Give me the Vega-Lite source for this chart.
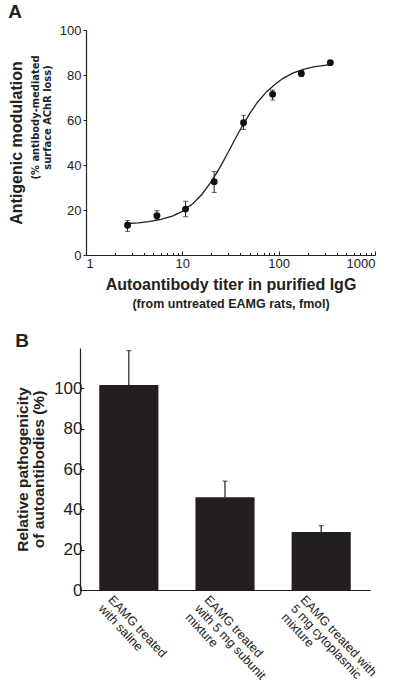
{
  "$schema": "https://vega.github.io/schema/vega-lite/v6.json",
  "padding": {"left": 8, "top": 3, "right": 5, "bottom": 2},
  "background": "white",
  "config": {
    "font": "Liberation Sans",
    "view": {"stroke": null},
    "axis": {"domainColor": "#222", "tickColor": "#222", "labelColor": "#222", "titleColor": "#222", "grid": false, "labelFont": "Liberation Sans", "titleFont": "Liberation Sans"},
    "title": {"font": "Liberation Sans", "fontSize": 19, "fontWeight": "bold", "color": "#222", "anchor": "start", "frame": "bounds"}
  },
  "datasets": {
    "pts": [
      {"titer": 2.7, "mod": 13.2, "lo": 10.5, "hi": 15.3},
      {"titer": 5.45, "mod": 17.5, "lo": 15.6, "hi": 19.7},
      {"titer": 10.8, "mod": 20.4, "lo": 17.0, "hi": 23.9},
      {"titer": 21.4, "mod": 32.6, "lo": 27.8, "hi": 37.1},
      {"titer": 43.2, "mod": 58.8, "lo": 55.8, "hi": 62.1},
      {"titer": 86.5, "mod": 71.4, "lo": 68.9, "hi": 73.3},
      {"titer": 172, "mod": 80.7, "lo": 79.3, "hi": 81.9},
      {"titer": 344, "mod": 85.5, "lo": 85.2, "hi": 85.8}
    ],
    "curve": [
      {"titer": 2.7, "mod": 14.0},
      {"titer": 3.5, "mod": 14.3},
      {"titer": 4.5, "mod": 14.8},
      {"titer": 6, "mod": 15.8},
      {"titer": 8, "mod": 17.4},
      {"titer": 10, "mod": 19.4},
      {"titer": 13, "mod": 23.0},
      {"titer": 16, "mod": 27.0},
      {"titer": 20, "mod": 32.6},
      {"titer": 25, "mod": 39.5},
      {"titer": 30, "mod": 45.8},
      {"titer": 35, "mod": 51.2},
      {"titer": 40, "mod": 55.8},
      {"titer": 50, "mod": 62.8},
      {"titer": 60, "mod": 67.8},
      {"titer": 75, "mod": 72.6},
      {"titer": 90, "mod": 75.6},
      {"titer": 110, "mod": 78.4},
      {"titer": 140, "mod": 80.8},
      {"titer": 180, "mod": 82.5},
      {"titer": 230, "mod": 83.6},
      {"titer": 300, "mod": 84.3},
      {"titer": 344, "mod": 84.6}
    ],
    "bars": [
      {"group": "EAMG treated|with saline", "value": 101.6, "hi": 118.7},
      {"group": "EAMG treated|with 5 mg subunit|mixture", "value": 46.0, "hi": 54.0},
      {"group": "EAMG treated with|5 mg cytoplasmic|mixture", "value": 28.7, "hi": 31.9}
    ]
  },
  "concat": [
    {
      "title": {"text": "A", "offset": 2},
      "width": 295,
      "height": 225,
      "layer": [
        {
          "layer": [
            {
              "data": {"name": "curve"},
              "mark": {"type": "line", "color": "#222", "strokeWidth": 1.3},
              "encoding": {
                "x": {"field": "titer", "type": "quantitative", "scale": {"type": "log", "domain": [1, 1000], "range": [6, 295]},
                  "axis": {"values": [1, 10, 100, 1000], "format": "d", "labelFontSize": 13, "tickSize": -4, "labelPadding": 6, "domainWidth": 1.2,
                    "title": "Autoantibody titer in purified IgG", "titleFontSize": 16, "titleFontWeight": "bold", "titlePadding": 6}},
                "y": {"field": "mod", "type": "quantitative", "scale": {"domain": [0, 100]},
                  "axis": {"values": [0, 20, 40, 60, 80, 100], "offset": -6, "labelFontSize": 13, "tickSize": 3, "labelPadding": 2, "domainWidth": 1.2,
                    "title": "Antigenic modulation", "titleFontSize": 16, "titleFontWeight": "bold", "titlePadding": 35}}
              }
            },
            {
              "data": {"name": "pts"},
              "mark": {"type": "rule", "color": "#222", "strokeWidth": 1},
              "encoding": {
                "x": {"field": "titer", "type": "quantitative"},
                "y": {"field": "lo", "type": "quantitative"},
                "y2": {"field": "hi"}
              }
            },
            {
              "data": {"name": "pts"},
              "mark": {"type": "tick", "orient": "horizontal", "color": "#222", "size": 5, "thickness": 1},
              "encoding": {
                "x": {"field": "titer", "type": "quantitative"},
                "y": {"field": "lo", "type": "quantitative"}
              }
            },
            {
              "data": {"name": "pts"},
              "mark": {"type": "tick", "orient": "horizontal", "color": "#222", "size": 5, "thickness": 1},
              "encoding": {
                "x": {"field": "titer", "type": "quantitative"},
                "y": {"field": "hi", "type": "quantitative"}
              }
            },
            {
              "data": {"name": "pts"},
              "mark": {"type": "point", "filled": true, "color": "#111", "opacity": 1, "size": 48},
              "encoding": {
                "x": {"field": "titer", "type": "quantitative"},
                "y": {"field": "mod", "type": "quantitative"}
              }
            }
          ]
        },
        {
          "data": {"name": "pts"},
          "mark": {"type": "point", "opacity": 0},
          "encoding": {
            "x": {"field": "titer", "type": "quantitative", "scale": {"type": "log", "domain": [1, 1000], "range": [6, 295]},
              "axis": {"orient": "bottom", "values": [2, 3, 4, 5, 6, 7, 8, 9, 20, 30, 40, 50, 60, 70, 80, 90, 200, 300, 400, 500, 600, 700, 800, 900],
                "labels": false, "domain": false, "tickSize": -2.5,
                "title": "(from untreated EAMG rats, fmol)", "titleFontSize": 12.5, "titleFontWeight": "bold", "titlePadding": 42}},
            "y": {"field": "mod", "type": "quantitative", "scale": {"domain": [0, 100]},
              "axis": {"orient": "left", "offset": -6, "labels": false, "ticks": false, "domain": false,
                "title": ["(% antibody-mediated", "surface AChR loss)"], "titleFont": "Liberation Sans Narrow, DejaVu Sans Condensed, sans-serif", "titleFontSize": 11, "titleFontWeight": "bold", "titleLineHeight": 12, "titlePadding": 34, "titleY": 87}}
          }
        }
      ],
      "resolve": {"scale": {"x": "independent", "y": "independent"}, "axis": {"x": "independent", "y": "independent"}}
    },
    {
      "title": {"text": "B", "offset": -3},
      "width": 290,
      "height": 242,
      "data": {"name": "bars"},
      "encoding": {
        "x": {"field": "group", "type": "nominal", "sort": null, "scale": {"paddingInner": 0.385, "paddingOuter": 0.2},
          "axis": {"title": null, "ticks": false, "labelAngle": 47, "labelAlign": "left", "labelBaseline": "top", "labelFontSize": 12.5, "labelLineHeight": 13,
            "labelExpr": "split(datum.label, '|')", "labelOffset": -14, "labelPadding": 3, "domainWidth": 1.2}}
      },
      "layer": [
        {
          "mark": {"type": "bar", "color": "#231f20"},
          "encoding": {
            "y": {"field": "value", "type": "quantitative", "scale": {"domain": [0, 120]},
              "axis": {"values": [0, 20, 40, 60, 80, 100], "labelFontSize": 17, "tickSize": -4, "labelPadding": 2, "domainWidth": 1.2,
                "title": ["Relative pathogenicity", "of autoantibodies (%)"], "titleFontSize": 15.5, "titleFontWeight": "bold", "titleLineHeight": 16.5, "titlePadding": 7}}
          }
        },
        {
          "mark": {"type": "rule", "color": "#231f20", "strokeWidth": 1.2},
          "encoding": {
            "y": {"field": "value", "type": "quantitative"},
            "y2": {"field": "hi"}
          }
        },
        {
          "mark": {"type": "tick", "orient": "horizontal", "color": "#231f20", "size": 5, "thickness": 1.2},
          "encoding": {
            "y": {"field": "hi", "type": "quantitative"}
          }
        }
      ]
    }
  ],
  "columns": 1,
  "align": "none",
  "spacing": 22
}
